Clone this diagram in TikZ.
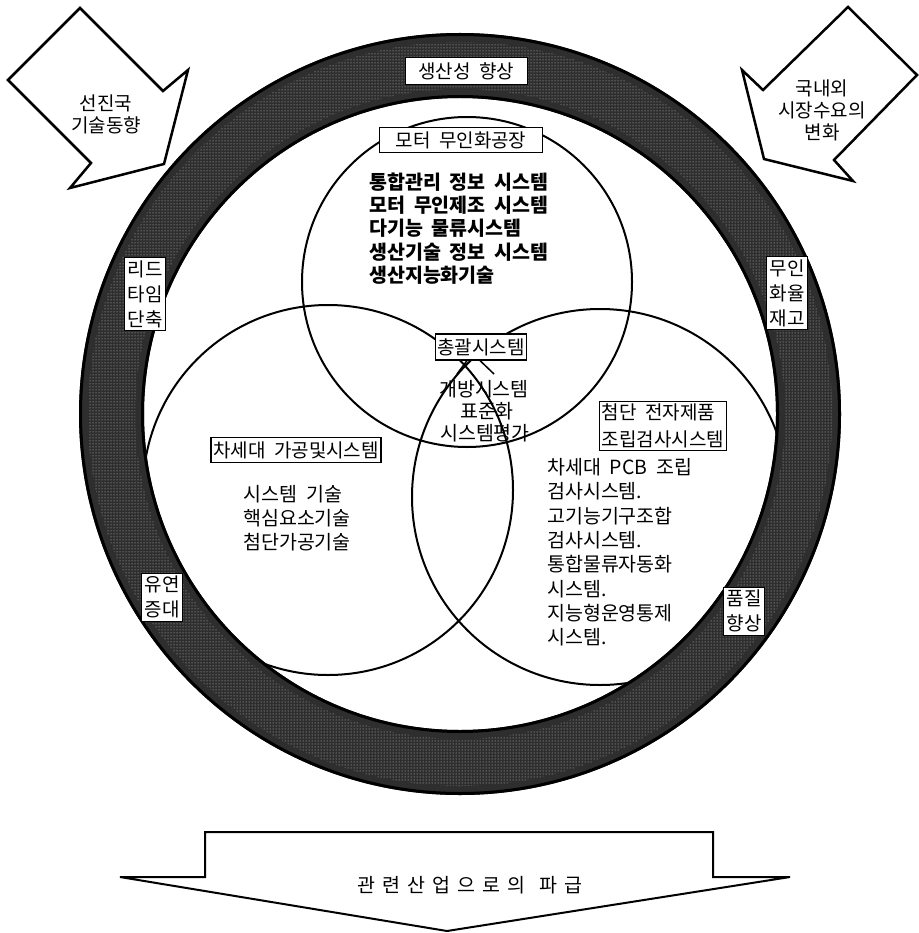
\documentclass[tikz,border=0pt]{standalone}
\usepackage{fontspec}
\usetikzlibrary{patterns}
\setmainfont{Noto Sans CJK KR}[WordSpace=2]
\begin{document}
\begin{tikzpicture}[x=1pt,y=-1pt,
  arrowbox/.style={draw=black, line width=2.5pt, fill=white, line join=miter},
  ringlabel/.style={draw=black, line width=0.8pt, fill=white, inner sep=3pt, align=center,
     font=\fontsize{19}{25}\selectfont},
  boxlabel/.style={draw=black, line width=1.2pt, fill=white, inner sep=2pt,
     font=\fontsize{19}{26}\selectfont, align=left},
  listtxt/.style={inner sep=0pt, font=\fontsize{19.5}{23}\selectfont\bfseries},
  plaintxt/.style={inner sep=0pt, font=\fontsize{19.5}{23}\selectfont},
  circ/.style={circle, draw=black, line width=2pt, inner sep=0pt}
]
\useasboundingbox (0,0) rectangle (918,933);
% three circles
\node[circ, minimum size=330pt] (ctop) at (467,282) {};
\node[circ, minimum size=370pt] (cleft) at (328,490) {};
\node[circ, minimum size=376pt] (cright) at (600,497) {};
% ring
\fill[black!82, even odd rule] (460,414) circle[radius=381pt] (460,414) circle[radius=316pt];
\fill[pattern=dots, pattern color=white!80!black, even odd rule] (460,414) circle[radius=372pt] (460,414) circle[radius=325pt];
\draw[line width=3pt] (460,414) circle[radius=379.5pt];
\draw[line width=3pt] (460,414) circle[radius=317.5pt];
% corner arrows
\draw[arrowbox] (80,8) -- (163,91) -- (188,70) -- (164,164) -- (70,188) -- (91,163) -- (8,80) -- cycle;
\draw[arrowbox] (848,7) -- (917,75) -- (834,160) -- (853,181) -- (764,159) -- (742,70) -- (763,90) -- cycle;
\node[plaintxt, align=center, font=\fontsize{19}{22}\selectfont] (al) at (106,114) {선진국\\기술동향};
\node[plaintxt, align=center, font=\fontsize{19}{22}\selectfont] (ar) at (822,110) {국내외\\시장수요의\\변화};
% bottom arrow
\draw[arrowbox, line width=2pt] (205,832) -- (713,832) -- (713,877) -- (790,877) -- (447,931) -- (120,877) -- (205,877) -- cycle;
\node[plaintxt] (bt) at (470,885) {관\hspace{7pt}련\hspace{7pt}산\hspace{7pt}업\hspace{7pt}으\hspace{7pt}로\hspace{7pt}의\hspace{14pt}파\hspace{7pt}급};
% ring labels
\node[ringlabel, minimum width=122pt, minimum height=27pt] (l1) at (466,71) {생산성 향상};
\node[ringlabel] (l2) at (145,294) {리드\\타임\\단축};
\node[ringlabel] (l3) at (787,293) {무인\\화율\\재고};
\node[ringlabel] (l4) at (162,597) {유연\\증대};
\node[ringlabel] (l5) at (744,611) {품질\\향상};
% top circle
\node[boxlabel, minimum width=163pt, minimum height=25pt, align=center] (b1) at (461,140) {모터 무인화공장};
\foreach \t [count=\i] in {통합관리 정보 시스템, 모터 무인제조 시스템, 다기능 물류시스템, 생산기술 정보 시스템, 생산지능화기술}
  \node[listtxt, anchor=west] (tl\i) at (369,{159+23.2*\i}) {\t};
% center
\node[boxlabel, minimum height=26pt] (b2) at (481,347) {총괄시스템};
\node[plaintxt] (c1) at (484,389) {개방시스템};
\node[plaintxt] (c2) at (487,411) {표준화};
\node[plaintxt] (c3) at (485,433) {시스템평가};
\coordinate (v1) at (457,374);
\coordinate (v2) at (494,374);
\draw[line width=1.5pt] ([xshift=-14pt]b2.south) -- (v1);
\draw[line width=1.5pt] ([xshift=-1pt]b2.south) -- (v2);
% left circle
\node[boxlabel, minimum height=25pt] (b3) at (296,450) {차세대 가공및시스템};
\node[plaintxt] (lc1) at (293,494) {시스템 기술};
\node[plaintxt] (lc2) at (297,518) {핵심요소기술};
\node[plaintxt] (lc3) at (297,542) {첨단가공기술};
% right circle
\node[boxlabel, align=left, font=\fontsize{19}{27}\selectfont] (b4) at (663,426) {첨단 전자제품\\조립검사시스템};
\foreach \t [count=\i] in {차세대 PCB 조립, 검사시스템., 고기능기구조합, 검사시스템., 통합물류자동화, 시스템., 지능형운영통제, 시스템.}
  \node[plaintxt, anchor=west] (rl\i) at (547,{443+24.3*\i}) {\t};
\end{tikzpicture}
\end{document}
